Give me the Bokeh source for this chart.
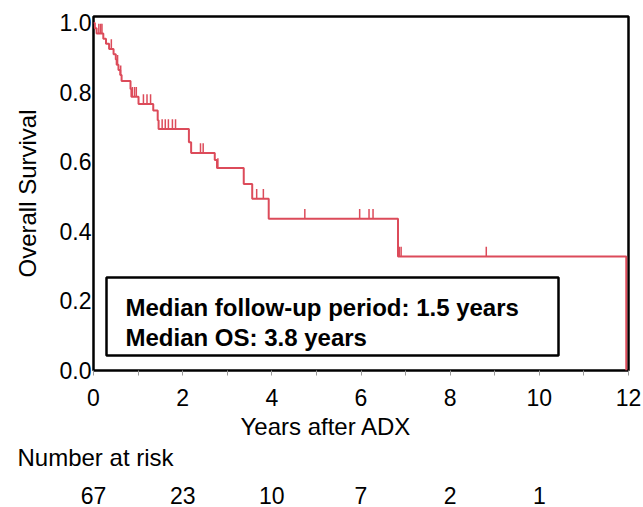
import numpy as np
from bokeh.plotting import figure
from bokeh.models import (FixedTicker, PrintfTickFormatter, Label, LinearAxis,
                          BoxAnnotation, Range1d, Title)
from bokeh.embed import file_html
from bokeh.resources import INLINE

# ---- data ----
event_times = [0.00, 0.03, 0.07, 0.22, 0.28, 0.35, 0.45, 0.50, 0.52, 0.56, 0.60,
               0.63, 0.83, 0.85, 1.01, 1.34, 1.44, 1.46, 2.14, 2.19, 2.72, 2.77,
               3.37, 3.56, 3.93, 6.83, 11.95]
survival = [1.000, 0.985, 0.970, 0.955, 0.940, 0.925, 0.910, 0.895, 0.880, 0.865,
            0.850, 0.833, 0.810, 0.788, 0.767, 0.748, 0.720, 0.695, 0.657, 0.626,
            0.606, 0.583, 0.537, 0.494, 0.437, 0.328, 0.000]
censor_times = [0.12, 0.16, 0.19, 0.40, 0.54, 0.61, 0.87, 0.92, 0.96, 1.12, 1.20,
                1.28, 1.54, 1.61, 1.68, 1.77, 1.84, 2.40, 2.46, 2.79, 3.66, 3.81,
                4.74, 5.97, 6.18, 6.27, 6.86, 6.90, 8.81]
risk_times = [0, 2, 4, 6, 8, 10]
risk_counts = [67, 23, 10, 7, 2, 1]
x_ticks = [0, 2, 4, 6, 8, 10, 12]
x_minor_ticks = [1, 3, 5, 7, 9, 11]
y_ticks = [0.0, 0.2, 0.4, 0.6, 0.8, 1.0]
box_lines = ["Median follow-up period: 1.5 years", "Median OS: 3.8 years"]
x_title = "Years after ADX"
risk_title = "Number at risk"

FONT = "Liberation Sans"
RED = "#DC4B5A"

# layout (pixels)
W, H = 643, 507
FRAME_L, FRAME_R, FRAME_T, FRAME_B = 93, 628, 16, 370

# survival level at each censoring time (step function lookup)
et = np.array(event_times)
sv = np.array(survival)
censor_surv = [float(sv[np.searchsorted(et, t, side="right") - 1]) for t in censor_times]

p = figure(width=W, height=H, output_backend="svg", toolbar_location=None,
           x_range=Range1d(0, 12), y_range=Range1d(0, 1.0187),
           min_border_left=FRAME_L, min_border_right=W - FRAME_R,
           min_border_top=FRAME_T, min_border_bottom=H - FRAME_B)
p.background_fill_color = "white"
p.border_fill_color = "white"
p.outline_line_color = "black"
p.outline_line_width = 2.5
p.xgrid.visible = False
p.ygrid.visible = False

# curve
p.step(x=event_times, y=survival, mode="after", line_color=RED, line_width=2)
p.segment(x0=censor_times, y0=censor_surv, x1=censor_times,
          y1=[s + 0.028 for s in censor_surv], line_color=RED, line_width=1.5)

# x axis
xa = p.xaxis[0]
xa.ticker = FixedTicker(ticks=x_ticks, minor_ticks=x_minor_ticks)
xa.axis_line_color = None
xa.major_tick_in = 0
xa.major_tick_out = 5
xa.minor_tick_in = 0
xa.minor_tick_out = 5
xa.major_tick_line_color = "#999999"
xa.minor_tick_line_color = "#999999"
xa.major_label_text_font = FONT
xa.major_label_text_font_size = "23px"
xa.major_label_text_color = "black"
xa.major_label_standoff = 13

# y axis
ya = p.yaxis[0]
ya.ticker = FixedTicker(ticks=y_ticks)
ya.formatter = PrintfTickFormatter(format="%.1f")
ya.axis_line_color = None
ya.major_tick_in = 0
ya.major_tick_out = 0
ya.minor_tick_line_color = None
ya.major_label_text_font = FONT
ya.major_label_text_font_size = "23px"
ya.major_label_text_color = "black"
ya.major_label_standoff = 2
ya.axis_label = "Overall Survival"
ya.axis_label_text_font = FONT
ya.axis_label_text_font_size = "24px"
ya.axis_label_text_font_style = "normal"
ya.axis_label_text_color = "black"
ya.axis_label_standoff = 16

# annotation box
p.add_layout(BoxAnnotation(left=13, right=465, bottom=15, top=93,
                           left_units="screen", right_units="screen",
                           bottom_units="screen", top_units="screen",
                           fill_color="white", fill_alpha=1.0,
                           line_color="black", line_alpha=1.0, line_width=2.5))
for txt, yy in zip(box_lines, [63, 33]):
    p.add_layout(Label(x=32, y=yy, x_units="screen", y_units="screen", text=txt,
                       text_font=FONT, text_font_size="24px", text_font_style="bold",
                       text_color="black", text_baseline="alphabetic"))

# below the frame: x title, risk-table title, risk counts on the same x scale
p.add_layout(Title(text=x_title, align="left", offset=147, standoff=4,
                   text_font=FONT, text_font_size="24px", text_font_style="normal",
                   text_color="black"), "below")
p.add_layout(Title(text=risk_title, align="left", offset=17 - FRAME_L, standoff=0,
                   text_font=FONT, text_font_size="24px", text_font_style="normal",
                   text_color="black"), "below")
risk_axis = LinearAxis(ticker=FixedTicker(ticks=risk_times),
                       major_label_overrides={t: str(c) for t, c in zip(risk_times, risk_counts)},
                       axis_line_color=None, major_tick_line_color=None,
                       minor_tick_line_color=None, major_label_standoff=10,
                       major_label_text_font=FONT, major_label_text_font_size="23px",
                       major_label_text_color="black")
p.add_layout(risk_axis, "below")

open("out.html", "w").write(file_html(p, INLINE))
